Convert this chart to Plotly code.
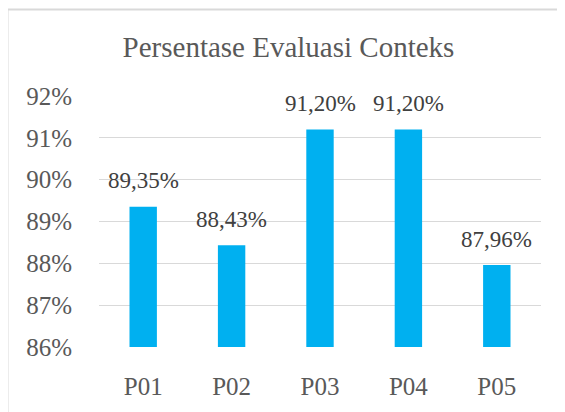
import plotly.graph_objects as go

categories = ["P01", "P02", "P03", "P04", "P05"]
values = [89.35, 88.43, 91.20, 91.20, 87.96]
y_ticks = [86, 87, 88, 89, 90, 91, 92]
y_tick_labels = ["86%", "87%", "88%", "89%", "90%", "91%", "92%"]
title_text = "Persentase Evaluasi Conteks"

FONT = "Liberation Serif"
GRAY = "#595959"

# the page body adds an 8px offset, so the figure is 8px smaller to avoid scrollbars
W, H = 557, 404
L, R, T, B = 91, 24, 88, 62
pw, ph = W - L - R, H - T - B

fig = go.Figure()
fig.add_trace(go.Bar(
    x=categories, y=values, marker_color="#00B0F0", marker_line_width=0,
    hoverinfo="skip",
))

for c, v in zip(categories, values):
    fig.add_annotation(
        x=c, y=v, text=f"{v:.2f}".replace(".", ",") + "%",
        showarrow=False, yshift=26, yanchor="middle",
        font=dict(family=FONT, size=23, color="#404040"),
    )

fig.update_layout(
    width=W, height=H,
    margin=dict(l=L, r=R, t=T, b=B),
    paper_bgcolor="white", plot_bgcolor="white",
    bargap=0.69,
    showlegend=False,
    title=dict(text=title_text, x=280.5 / W, xanchor="center",
               y=1 - 39 / H, yanchor="middle",
               font=dict(family=FONT, size=29, color=GRAY)),
    xaxis=dict(showline=False, ticks="", tickfont=dict(family=FONT, size=25, color=GRAY),
               showgrid=False, ticklabelstandoff=22),
    yaxis=dict(range=[86, 92], tickvals=y_ticks, ticktext=y_tick_labels, showgrid=True,
               gridcolor="#D9D9D9", gridwidth=1, zeroline=False, showline=False,
               tickfont=dict(family=FONT, size=25, color=GRAY), ticks="",
               ticklabelstandoff=26),
    shapes=[
        dict(type="line", xref="paper", yref="paper",
             x0=(-0.5 - L) / pw, x1=(-0.5 - L) / pw,
             y0=-(B + 5) / ph, y1=1 + (T - 0.5) / ph,
             line=dict(color="#D9D9D9", width=2), layer="below"),
        dict(type="line", xref="paper", yref="paper",
             x0=(-1.5 - L) / pw, x1=1 + (R + 20) / pw,
             y0=1 + (T - 0.5) / ph, y1=1 + (T - 0.5) / ph,
             line=dict(color="#D9D9D9", width=2), layer="below"),
    ],
)

fig.write_html("out.html", config={"displayModeBar": False})
